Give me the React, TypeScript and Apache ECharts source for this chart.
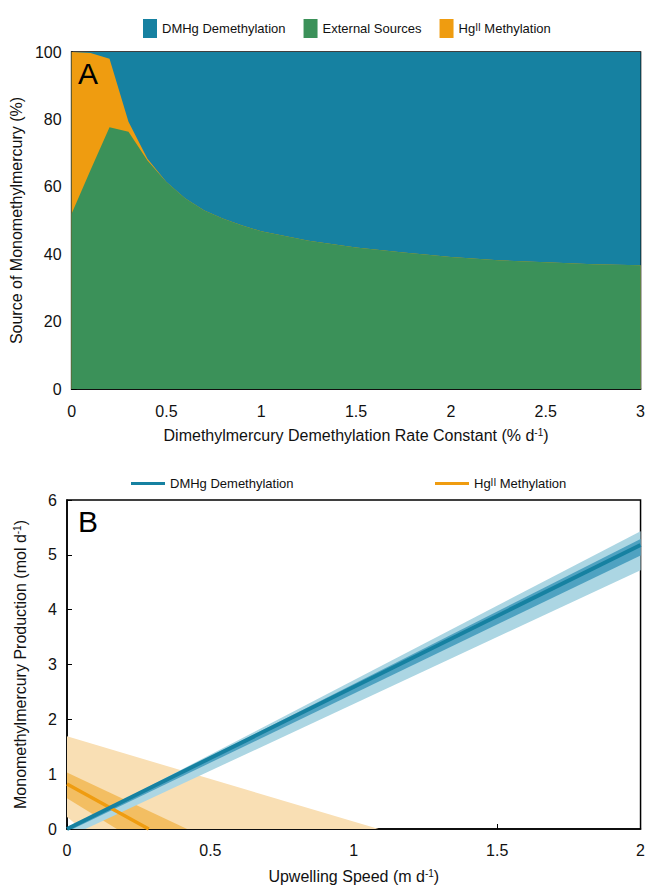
import React, { useEffect, useRef } from "react";
import * as echarts from "echarts";

// Panel A: source of monomethylmercury (%) vs DMHg demethylation rate constant
const rateX = [0, 0.1, 0.2, 0.3, 0.4, 0.5, 0.6, 0.7, 0.8, 0.9, 1.0, 1.25, 1.5, 1.75, 2.0, 2.25, 2.5, 2.75, 3.0];
const externalPct = [52, 65, 77.7, 76.3, 67.8, 61.4, 56.5, 53.0, 50.5, 48.5, 46.8, 44.0, 42.0, 40.5, 39.2, 38.2, 37.6, 37.0, 36.7];
const methylPct = [48, 34.7, 20.3, 3.0, 0.5, 0, 0, 0, 0, 0, 0, 0, 0, 0, 0, 0, 0, 0, 0];
const demethPct = [0, 0.3, 2.0, 20.7, 31.7, 38.6, 43.5, 47.0, 49.5, 51.5, 53.2, 56.0, 58.0, 59.5, 60.8, 61.8, 62.4, 63.0, 63.3];

// Panel B: MMHg production (mol d-1) vs upwelling speed (m d-1)
const demethLine = [[0, 0], [2, 5.18]];
const demethInner = [[0, 0], [2, 5.29], [2, 4.99], [0.02, 0]];
const demethOuter = [[0, 0], [2, 5.43], [2, 4.72], [0.064, 0]];
const methylLine = [[0, 0.82], [0.285, 0]];
const methylInner = [[0, 1.03], [0.419, 0], [0.174, 0], [0, 0.56]];
const methylOuter = [[0, 1.69], [1.087, 0], [0.052, 0], [0, 0.22]];

const xTicksA = [0, 3, 0.5];
const yTicksA = [0, 100, 20];
const xTicksB = [0, 2, 0.5];
const yTicksB = [0, 6, 1];

const BLUE = "#1681a1";
const GREEN = "#3b9159";
const ORANGE = "#ef9c10";
const FONT = "Liberation Sans, Arial, sans-serif";

const rich = {
  sup: { fontSize: 10, verticalAlign: "top", lineHeight: 10, fontFamily: FONT, color: "#111" },
};

function poly(pts: number[][], color: string) {
  return {
    type: "custom",
    xAxisIndex: 1,
    yAxisIndex: 1,
    silent: true,
    data: pts,
    encode: { x: 0, y: 1 },
    renderItem: (params: any, api: any) => {
      if (params.dataIndex !== 0) return null;
      const points = pts.map((p) => api.coord(p));
      return { type: "polygon", shape: { points }, style: { fill: color } };
    },
  };
}

function axisCommon() {
  return {
    axisLine: { show: true, onZero: false, lineStyle: { color: "#000", width: 1.5 } },
    axisTick: { show: true, inside: true, length: 5, lineStyle: { color: "#000", width: 1 } },
    splitLine: { show: false },
    nameLocation: "middle",
    nameTextStyle: { color: "#111", fontSize: 16, fontFamily: FONT, rich },
  };
}

export default function App() {
  const ref = useRef<HTMLDivElement>(null);
  useEffect(() => {
    if (!ref.current) return;
    const chart = echarts.init(ref.current, null, { renderer: "svg" });
    const legendText = { color: "#111", fontSize: 13, fontFamily: FONT, rich };
    const fmt = (n: string) => (n === "HgII Methylation" ? "Hg{sup|II} Methylation" : n);
    // cumulative tops for the stacked areas (built from the named arrays)
    const greenTop = rateX.map((x, i) => [x, externalPct[i]]);
    const orangeTop = rateX.map((x, i) => [x, externalPct[i] + methylPct[i]]);
    const blueTop = rateX.map((x, i) => [x, externalPct[i] + methylPct[i] + demethPct[i]]);
    const area = (name: string, data: number[][], color: string, z: number) => ({
      name, type: "line", xAxisIndex: 0, yAxisIndex: 0, data, z,
      symbol: "none", lineStyle: { width: 0 },
      areaStyle: { color, opacity: 1, origin: "start" }, itemStyle: { color },
    });
    const tickLabel = (margin: number) => ({ color: "#111", fontSize: 16, fontFamily: FONT, margin });
    chart.setOption({
      animation: false,
      backgroundColor: "#fff",
      grid: [
        { left: 67, top: 52, width: 575, height: 337, show: true, borderColor: "#000", borderWidth: 1.5, containLabel: false },
        { left: 67, top: 500, width: 575, height: 335, show: true, borderColor: "#000", borderWidth: 1.5, containLabel: false },
      ],
      legend: [
        {
          left: 138, top: 14, itemWidth: 14, itemHeight: 19, itemGap: 18, icon: "rect",
          textStyle: legendText, formatter: fmt,
          data: [
            { name: "DMHg Demethylation", itemStyle: { color: BLUE } },
            { name: "External Sources", itemStyle: { color: GREEN } },
            { name: "HgII Methylation", itemStyle: { color: ORANGE } },
          ],
        },
        {
          left: 126, top: 472, itemWidth: 34, itemHeight: 3, icon: "rect",
          textStyle: legendText, formatter: fmt,
          data: [{ name: "DMHg Demethylation", itemStyle: { color: BLUE } }],
        },
        {
          left: 430, top: 472, itemWidth: 34, itemHeight: 3, icon: "rect",
          textStyle: legendText, formatter: fmt,
          data: [{ name: "HgII Methylation", itemStyle: { color: ORANGE } }],
        },
      ],
      xAxis: [
        {
          ...axisCommon(), gridIndex: 0, type: "value",
          min: xTicksA[0], max: xTicksA[1], interval: xTicksA[2],
          name: "Dimethylmercury Demethylation Rate Constant (% d{sup|-1})", nameGap: 38,
          axisLabel: tickLabel(14),
        },
        {
          ...axisCommon(), gridIndex: 1, type: "value",
          min: xTicksB[0], max: xTicksB[1], interval: xTicksB[2],
          name: "Upwelling Speed (m d{sup|-1})", nameGap: 39,
          axisLabel: tickLabel(13),
        },
      ],
      yAxis: [
        {
          ...axisCommon(), gridIndex: 0, type: "value",
          min: yTicksA[0], max: yTicksA[1], interval: yTicksA[2],
          name: "Source of Monomethylmercury (%)", nameGap: 39,
          axisLabel: tickLabel(10),
        },
        {
          ...axisCommon(), gridIndex: 1, type: "value",
          min: yTicksB[0], max: yTicksB[1], interval: yTicksB[2],
          name: "Monomethylmercury Production (mol d{sup|-1})", nameGap: 39,
          axisLabel: tickLabel(10),
        },
      ],
      graphic: [
        { type: "text", left: 78, top: 58, style: { text: "A", fontSize: 30, fontFamily: FONT, fill: "#000" }, z: 100 },
        { type: "text", left: 78, top: 506, style: { text: "B", fontSize: 30, fontFamily: FONT, fill: "#000" }, z: 100 },
      ],
      series: [
        area("DMHg Demethylation", blueTop, BLUE, 1),
        area("HgII Methylation", orangeTop, ORANGE, 2),
        area("External Sources", greenTop, GREEN, 3),
        poly(methylOuter, "#f9dfb4"),
        poly(methylInner, "#f3be62"),
        {
          name: "HgII Methylation", type: "line", xAxisIndex: 1, yAxisIndex: 1,
          data: methylLine, symbol: "none", lineStyle: { width: 3.5, color: ORANGE }, itemStyle: { color: ORANGE },
        },
        poly(demethOuter, "#acd6e3"),
        poly(demethInner, "#4fa2c1"),
        {
          name: "DMHg Demethylation", type: "line", xAxisIndex: 1, yAxisIndex: 1,
          data: demethLine, symbol: "none", lineStyle: { width: 4, color: BLUE }, itemStyle: { color: BLUE },
        },
      ],
    });
    return () => chart.dispose();
  }, []);
  return <div ref={ref} style={{ width: 648, height: 885, position: "absolute", left: 0, top: 0 }} />;
}
